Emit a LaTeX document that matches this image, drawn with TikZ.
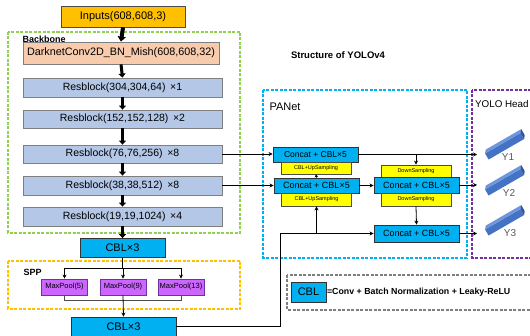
\documentclass[tikz,border=0pt]{standalone}
\usepackage{fontspec}
\setmainfont{Liberation Sans}
\usetikzlibrary{arrows.meta,calc}
\definecolor{cOrange}{RGB}{255,192,0}
\definecolor{cSalmon}{RGB}{248,203,173}
\definecolor{cRes}{RGB}{180,199,231}
\definecolor{cCbl}{RGB}{0,176,240}
\definecolor{cPool}{RGB}{204,102,255}
\definecolor{cPoolB}{RGB}{112,48,160}
\definecolor{cYel}{RGB}{255,255,0}
\definecolor{cGreen}{RGB}{146,208,80}
\definecolor{cBlue}{RGB}{0,176,240}
\definecolor{cPurple}{RGB}{112,48,160}
\definecolor{cGrey}{RGB}{127,127,127}
\definecolor{cBar}{RGB}{68,114,196}
\definecolor{cBarL}{RGB}{110,150,220}
\definecolor{cBarD}{RGB}{47,85,151}
\tikzset{
  box/.style={draw=#1, line width=0.8pt, inner sep=0pt, align=center},
  resbox/.style={box=cGrey, fill=cRes, minimum width=199pt, font=\fontsize{10.5}{12}\selectfont},
  cblbox/.style={box=black!80, fill=cCbl, font=\fontsize{11}{13}\selectfont},
  poolbox/.style={box=cPoolB, fill=cPool, minimum width=46pt, minimum height=16pt, font=\fontsize{7.5}{9}\selectfont},
  catbox/.style={box=black!80, fill=cCbl, minimum width=85pt, font=\fontsize{9}{11}\selectfont},
  yelbox/.style={box=black!70, fill=cYel, minimum width=70pt, font=\fontsize{5.5}{7}\selectfont},
  dbox/.style={dash pattern=on 3pt off 1.5pt, line width=1.5pt},
  arr/.style={-{Stealth[length=4pt,width=4pt]}, line width=0.8pt, black},
  bigarrow/.style={-{Triangle[length=4pt,width=7pt]}, line width=3pt, black},
}
\newcommand\yolobar[1]{%
  \begin{scope}[shift={#1}, rotate=30]
    \fill[cBar] (-21,-3.5) rectangle (20,3.5);
    \fill[cBarL] (-21,-3.5) -- (20,-3.5) -- (22.5,-6.5) -- (-18.5,-6.5) -- cycle;
    \fill[cBarD] (20,-3.5) -- (22.5,-6.5) -- (22.5,0.5) -- (20,3.5) -- cycle;
  \end{scope}}
\begin{document}
\begin{tikzpicture}[x=1pt,y=-1pt]
\useasboundingbox (0,0) rectangle (530,336);
\clip (0,0) rectangle (530,336);
\fill[white] (0,0) rectangle (530,336);

% group frames
\draw[dbox, cGreen] (8,32) rectangle (240,233);
\draw[dbox, cOrange] (8,261) rectangle (240,309);
\draw[dbox, cBlue] (263,90) rectangle (467,258);
\draw[dbox, cPurple] (472,90) rectangle (545,258);
\draw[dbox, cGrey] (287,275) rectangle (545,310);

% titles
\node[font=\bfseries\fontsize{9.5}{11}\selectfont] (title) at (338,55) {Structure of YOLOv4};
\node[anchor=west, font=\bfseries\fontsize{9}{11}\selectfont] (lbb) at (19,39) {Backbone};
\node[anchor=west, font=\bfseries\fontsize{9}{11}\selectfont] (lspp) at (20,272) {SPP};
\node[anchor=west, font=\fontsize{11}{13}\selectfont] (lpan) at (266,107) {PANet};
\node[anchor=west, inner sep=1pt, font=\fontsize{9.8}{12}\selectfont] (lyh) at (474,104) {YOLO Head};

% backbone
\node[box=black!70, fill=cOrange, minimum width=124pt, minimum height=21pt, font=\fontsize{11}{13}\selectfont] (inp) at (123,16.5) {Inputs(608,608,3)};
\node[box=cGrey, fill=cSalmon, minimum width=196pt, minimum height=22pt, font=\fontsize{10.8}{13}\selectfont] (dk) at (121,53) {DarknetConv2D\_BN\_Mish(608,608,32)};
\node[resbox, minimum height=19pt] (rb1) at (122.5,87.5) {Resblock(304,304,64) \,×1};
\node[resbox, minimum height=18pt] (rb2) at (122.5,119) {Resblock(152,152,128) \,×2};
\node[resbox, minimum height=18pt] (rb3) at (122.5,154) {Resblock(76,76,256) \,×8};
\node[resbox, minimum height=19pt] (rb4) at (122.5,185.5) {Resblock(38,38,512) \,×8};
\node[resbox, minimum height=19pt] (rb5) at (122.5,216.5) {Resblock(19,19,1024) \,×4};
\node[cblbox, minimum width=85pt, minimum height=19pt] (cbl1) at (122.5,248) {CBL×3};

\draw[-{Triangle[length=5pt,width=8pt]}, line width=4pt] (inp.south) -- (dk.north);
\draw[bigarrow] (dk.south) -- (rb1.north);
\draw[bigarrow] (rb1.south) -- (rb2.north);
\draw[bigarrow] (rb2.south) -- (rb3.north);
\draw[bigarrow] (rb3.south) -- (rb4.north);
\draw[bigarrow] (rb4.south) -- (rb5.north);
\draw[bigarrow] (rb5.south) -- (cbl1.north);

% SPP
\node[poolbox] (mp5) at (64.5,287) {MaxPool(5)};
\node[poolbox] (mp9) at (123,287) {MaxPool(9)};
\node[poolbox] (mp13) at (181,287) {MaxPool(13)};
\node[cblbox, minimum width=105pt, minimum height=19pt] (cbl2) at (123.5,326.5) {CBL×3};
\coordinate (st) at (0,268);
\coordinate (sb) at (0,300);
\draw[line width=0.8pt] (cbl1.south) -- (cbl1.south |- st);
\draw[line width=0.8pt] (mp5.north |- st) -- (mp13.north |- st);
\draw[arr] (mp5.north |- st) -- (mp5.north);
\draw[arr] (mp9.north |- st) -- (mp9.north);
\draw[arr] (mp13.north |- st) -- (mp13.north);
\draw[line width=0.8pt, black!70] (mp5.south) -- (mp5.south |- sb) -- (mp13.south |- sb) -- (mp13.south);
\draw[arr] (mp9.south) -- (cbl2.north);

% PANet
\node[catbox, minimum height=15pt, font=\fontsize{8.5}{10}\selectfont] (c1) at (315.5,154.5) {Concat + CBL×5};
\node[yelbox, minimum height=12pt] (u1) at (316,168) {CBL+UpSampling};
\node[catbox, minimum height=15pt] (c2) at (316.5,185.5) {Concat + CBL×5};
\node[yelbox, minimum height=13pt] (u2) at (316.5,199.5) {CBL+UpSampling};
\node[yelbox, minimum height=12pt] (d1) at (416,171) {DownSampling};
\node[catbox, minimum height=16pt] (c3) at (416.5,185) {Concat + CBL×5};
\node[yelbox, minimum height=13pt] (d2) at (416,199.5) {DownSampling};
\node[catbox, minimum height=17pt] (c4) at (416.5,233.5) {Concat + CBL×5};

\coordinate (yh) at (477,0);
\coordinate (kx) at (280,0);
\draw[arr] (rb3.east) -- (rb3.east -| c1.west);
\draw[arr] (rb4.east) -- (rb4.east -| c2.west);
\draw[arr] (c1.east) -- (c1.east -| yh);
\draw[arr] (c1.east -| d1.north) -- (d1.north);
\draw[arr] (c2.east) -- (c2.east -| c3.west);
\draw[arr] (c3.east) -- (c3.east -| yh);
\draw[-{Stealth[length=3pt,width=3.5pt]}, line width=0.8pt] (c2.north) -- (u1.south);
\draw[arr] (d2.south) -- (c4.north);
\draw[arr] (c4.east) -- (c4.east -| yh);
\draw[arr] (cbl2.east) -| (kx |- c4.west) -- (c4.west);
\draw[arr] (u2.south |- c4.west) -- (u2.south);

% YOLO head
\yolobar{(505,146)}
\yolobar{(505,182)}
\yolobar{(505,222)}
\node[text=black!65, font=\fontsize{10}{12}\selectfont] (y1) at (508,157) {Y1};
\node[text=black!65, font=\fontsize{10}{12}\selectfont] (y2) at (509,193) {Y2};
\node[text=black!65, font=\fontsize{10}{12}\selectfont] (y3) at (510,233) {Y3};

% legend
\node[cblbox, minimum width=35pt, minimum height=20pt] (lcbl) at (308.5,292) {CBL};
\node[anchor=west, inner sep=0.5pt, font=\bfseries\fontsize{8.8}{10}\selectfont] (ltext) at (lcbl.east) {=Conv + Batch Normalization + Leaky-ReLU};
\end{tikzpicture}
\end{document}
